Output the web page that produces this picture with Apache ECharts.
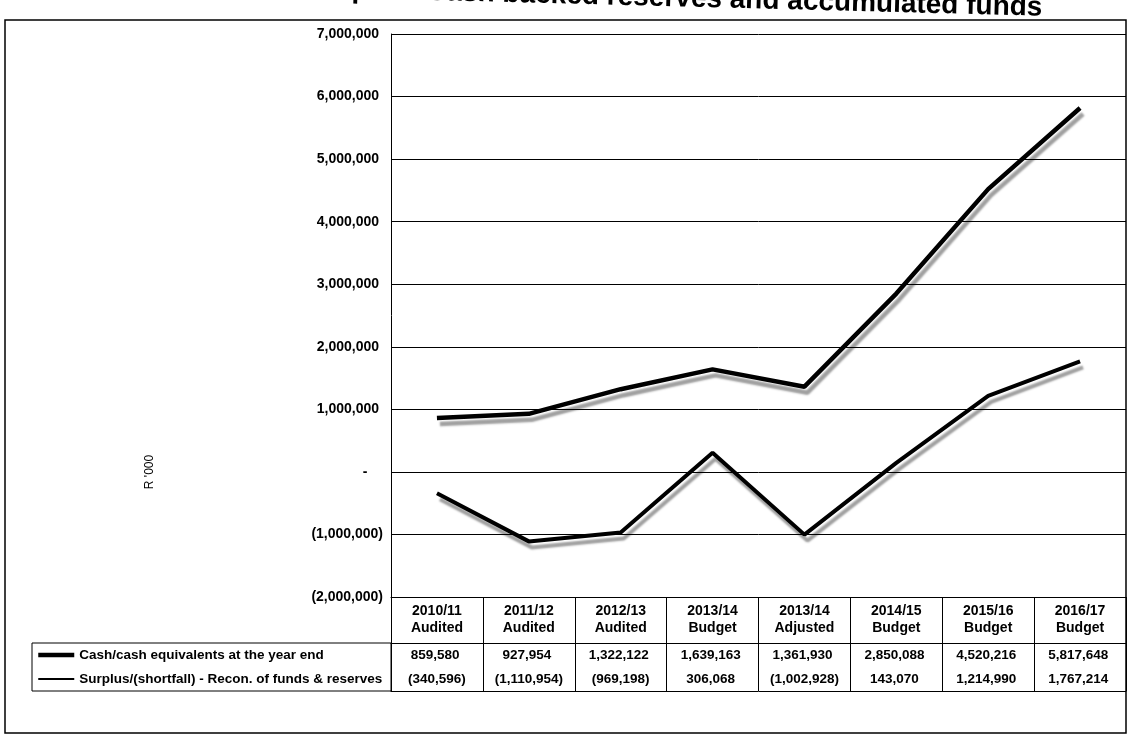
<!DOCTYPE html>
<html>
<head>
<meta charset="utf-8">
<script src="https://cdn.jsdelivr.net/npm/echarts@6/dist/echarts.min.js"></script>
<style>
  html, body { margin: 0; padding: 0; background: #fff; }
  #chart { width: 1128px; height: 737px; }
</style>
</head>
<body>
<div id="chart"></div>
<script>
// Financial years shown along the category axis / table header
const categories = [
  '2010/11\nAudited', '2011/12\nAudited', '2012/13\nAudited', '2013/14\nBudget',
  '2013/14\nAdjusted', '2014/15\nBudget', '2015/16\nBudget', '2016/17\nBudget'
];

const cashName = 'Cash/cash equivalents at the year end';
const surplusName = 'Surplus/(shortfall) - Recon. of funds & reserves';

// R '000
const cashValues = [859580, 927954, 1322122, 1639163, 1361930, 2850088, 4520216, 5817648];
const surplusValues = [-340596, -1110954, -969198, 306068, -1002928, 143070, 1214990, 1767214];

// value axis range and step
const yMin = -2000000;
const yMax = 7000000;
const yStep = 1000000;

const titleText = 'Graph 7: Cash backed reserves and accumulated funds';
const unitText = "R '000";

const FONT = '"Liberation Sans", Arial, sans-serif';

// accounting style: negatives in brackets, zero as a dash
function acct(v) {
  if (v === 0) return '-    ';
  const s = Math.abs(v).toLocaleString('en-US');
  return v < 0 ? '(' + s + ')' : s + ' ';
}

const chart = echarts.init(document.getElementById('chart'), null, { renderer: 'canvas' });

const tableLabel = {
  interval: 0,
  color: '#000',
  fontFamily: FONT,
  fontSize: 13.5,
  fontWeight: 'bold'
};

const shadow = {
  shadowColor: 'rgba(0,0,0,0.38)',
  shadowBlur: 2,
  shadowOffsetX: 3,
  shadowOffsetY: 6
};
const noShadow = { shadowColor: 'transparent', shadowBlur: 0, shadowOffsetX: 0, shadowOffsetY: 0 };

const axisLineOn = { show: true, onZero: false, lineStyle: { color: '#000', width: 1 } };

chart.setOption({
  animation: false,
  backgroundColor: '#fff',
  grid: { left: 391, right: 2, top: 34, bottom: 140, containLabel: false },
  legend: {
    orient: 'vertical',
    left: 36,
    top: 648,
    padding: 0,
    itemWidth: 36,
    itemHeight: 14,
    itemGap: 10,
    selectedMode: false,
    textStyle: { color: '#000', fontFamily: FONT, fontSize: 13.5, fontWeight: 'bold' },
    data: [
      {
        name: cashName,
        itemStyle: { opacity: 0 },
        lineStyle: Object.assign({ width: 4.5, color: '#000' }, noShadow)
      },
      {
        name: surplusName,
        itemStyle: { opacity: 0 },
        lineStyle: Object.assign({ width: 2, color: '#000' }, noShadow)
      }
    ]
  },
  xAxis: [
    {
      // table header row
      type: 'category', data: categories, boundaryGap: true, position: 'bottom', offset: 0,
      axisLine: axisLineOn,
      axisTick: { show: true, interval: 0, length: 46, lineStyle: { color: '#000', width: 1 } },
      axisLabel: Object.assign({}, tableLabel, { margin: 6, lineHeight: 17, fontSize: 14 }),
      splitLine: { show: false }
    },
    {
      // cash row
      type: 'category', data: categories, boundaryGap: true, position: 'bottom', offset: 46,
      axisLine: axisLineOn,
      axisTick: { show: true, interval: 0, length: 48, lineStyle: { color: '#000', width: 1 } },
      axisLabel: Object.assign({}, tableLabel, { margin: 5, formatter: (v, i) => acct(cashValues[i]) }),
      splitLine: { show: false }
    },
    {
      // surplus row
      type: 'category', data: categories, boundaryGap: true, position: 'bottom', offset: 70,
      axisLine: { show: false, onZero: false },
      axisTick: { show: false },
      axisLabel: Object.assign({}, tableLabel, { margin: 5, formatter: (v, i) => acct(surplusValues[i]) }),
      splitLine: { show: false }
    },
    {
      // closing line of the table
      type: 'category', data: categories, boundaryGap: true, position: 'bottom', offset: 94,
      axisLine: axisLineOn,
      axisTick: { show: false },
      axisLabel: { show: false },
      splitLine: { show: false }
    }
  ],
  yAxis: {
    type: 'value',
    min: yMin,
    max: yMax,
    interval: yStep,
    axisLine: { show: true, lineStyle: { color: '#000', width: 1 } },
    axisTick: { show: false },
    splitLine: { show: true, lineStyle: { color: '#000', width: 1 } },
    axisLabel: {
      margin: 8,
      color: '#000',
      fontFamily: FONT,
      fontSize: 14,
      fontWeight: 'bold',
      formatter: acct
    }
  },
  series: [
    {
      name: cashName,
      type: 'line',
      xAxisIndex: 0,
      data: cashValues,
      symbol: 'none',
      silent: true,
      z: 4,
      itemStyle: { color: '#000' },
      lineStyle: Object.assign({ color: '#000', width: 4.5 }, shadow)
    },
    {
      name: surplusName,
      type: 'line',
      xAxisIndex: 0,
      data: surplusValues,
      symbol: 'none',
      silent: true,
      z: 4,
      itemStyle: { color: '#000' },
      lineStyle: Object.assign({ color: '#000', width: 4 }, shadow)
    }
  ],
  graphic: [
    {
      // outer frame
      type: 'rect', silent: true, z: 0,
      shape: { x: 5, y: 20, width: 1121, height: 713 },
      style: { fill: 'none', stroke: '#000', lineWidth: 1.5 }
    },
    {
      // box round the legend cells of the table
      type: 'rect', silent: true, z: 0,
      shape: { x: 32, y: 643, width: 359, height: 48 },
      style: { fill: 'none', stroke: '#000', lineWidth: 1 }
    },
    {
      type: 'text', silent: true,
      x: 150, y: 472, rotation: Math.PI / 2,
      style: {
        text: unitText, fill: '#000', align: 'center', verticalAlign: 'middle',
        font: 'normal 12px ' + FONT
      }
    },
    {
      // page title, running off the top edge of the sheet
      type: 'text', silent: true,
      x: 1042, y: 22, rotation: -0.026,
      style: {
        text: titleText, fill: '#000', align: 'right', verticalAlign: 'bottom',
        font: 'bold 28px ' + FONT
      }
    }
  ]
});
</script>
</body>
</html>
